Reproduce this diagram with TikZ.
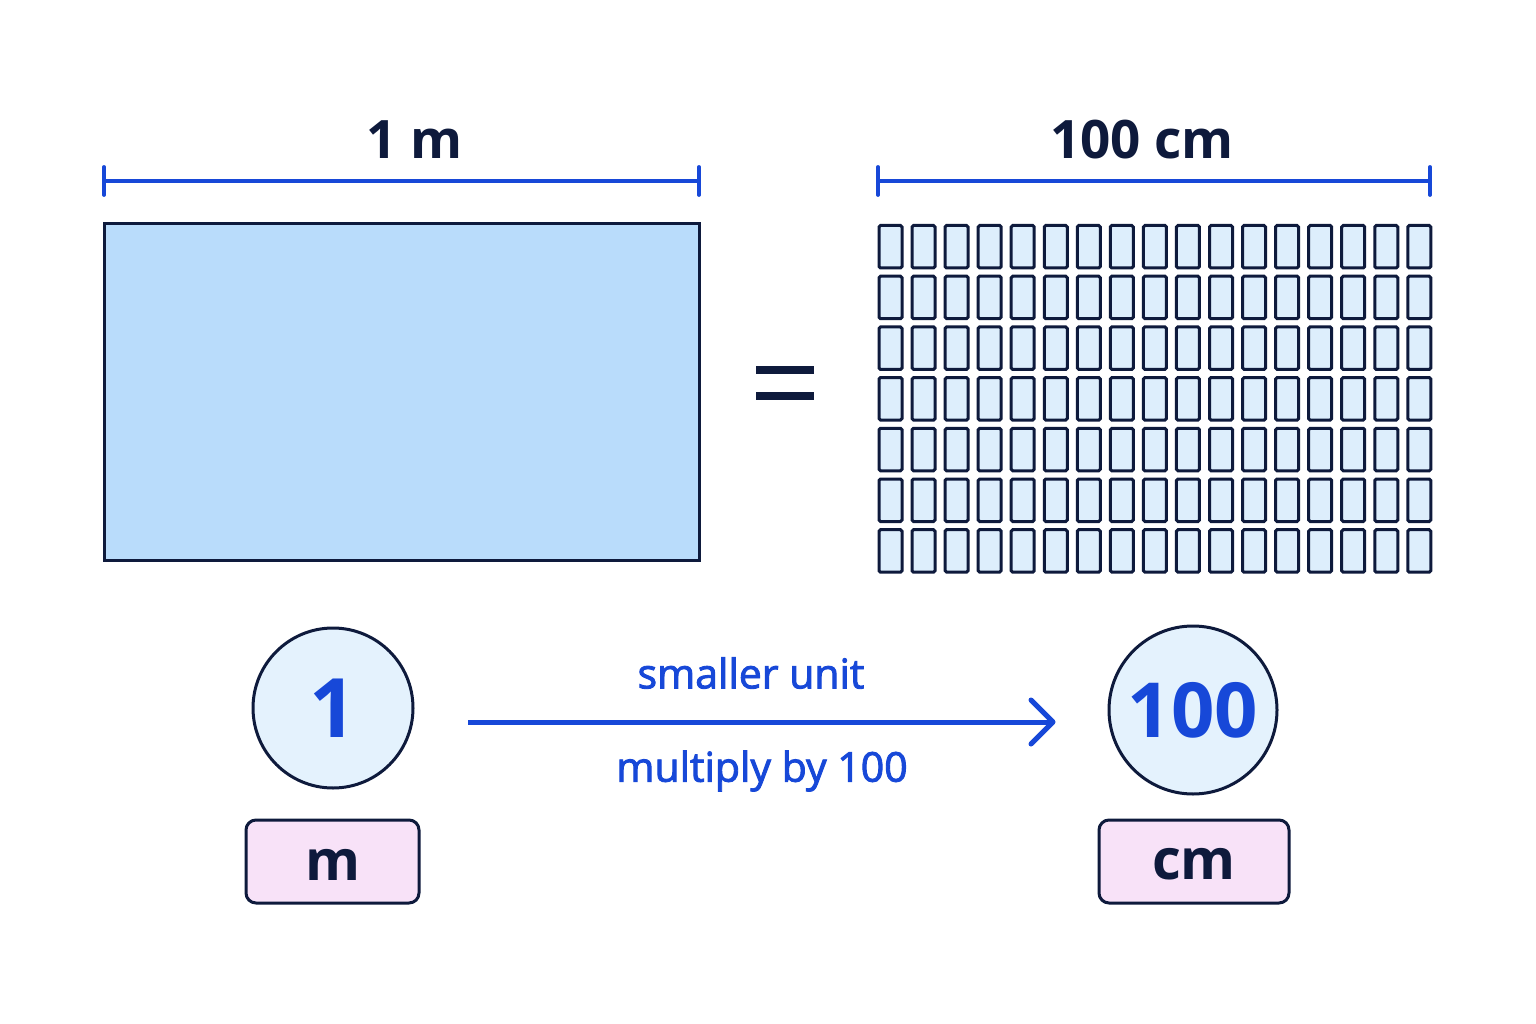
\documentclass[tikz,border=0pt]{standalone}
\usepackage{fontspec}
\setmainfont{Open Sans}
\newfontfamily\medfont[FakeBold=2.2]{Open Sans}
\definecolor{navy}{HTML}{0E1A3C}
\definecolor{ublue}{HTML}{1748D8}
\definecolor{bigfill}{HTML}{B9DCFB}
\definecolor{cellfill}{HTML}{DDEEFC}
\definecolor{circfill}{HTML}{E4F2FD}
\definecolor{pinkfill}{HTML}{F8E2F8}
\tikzset{
  dimline/.style={draw=ublue, line width=3.8pt},
  cell/.style={draw=navy, fill=cellfill, line width=3pt, rounded corners=1.5pt},
  numcirc/.style={circle, draw=navy, fill=circfill, line width=3pt, inner sep=0pt},
  unitbox/.style={draw=navy, fill=pinkfill, line width=3pt, rounded corners=10pt, inner sep=0pt},
  dimlabel/.style={text=navy, font=\fontsize{53}{60}\selectfont\bfseries},
  bluelabel/.style={text=ublue, font=\fontsize{41}{46}\selectfont\medfont}
}
\begin{document}
\begin{tikzpicture}[x=1pt,y=-1pt]
\useasboundingbox[fill=white] (0,0) rectangle (1536,1024);

% left dimension
\coordinate (l1) at (104,181);
\coordinate (l2) at (699,181);
\draw[dimline] (l1) -- (l2);
\draw[dimline, line cap=round] (104,167) -- (104,195);
\draw[dimline, line cap=round] (699,167) -- (699,195);
\node[dimlabel] (lab1m) at (415,140) {1 m};

% big rectangle
\node[draw=navy, fill=bigfill, line width=3pt, minimum width=595pt, minimum height=336pt, inner sep=0pt] (bigrect) at (401.5,392) {};

% equals
\draw[navy, line width=8.5pt] (756,370) -- (814,370);
\draw[navy, line width=8.5pt] (756,396) -- (814,396);

% right dimension
\coordinate (r1) at (878,181);
\coordinate (r2) at (1430,181);
\draw[dimline] (r1) -- (r2);
\draw[dimline, line cap=round] (878,167) -- (878,195);
\draw[dimline, line cap=round] (1430,167) -- (1430,195);
\node[dimlabel] (lab100cm) at (1142,140) {100 cm};

% grid of 17 x 7 cells
\foreach \i in {0,...,16}{
  \foreach \j in {0,...,6}{
    \pgfmathsetmacro{\xa}{879+33.05*\i}
    \pgfmathsetmacro{\ya}{225.5+50.7*\j}
    \draw[cell] (\xa,\ya) rectangle ++(23,42.5);
  }
}

% circles
\node[numcirc, minimum size=160pt] (c1) at (333,708) {};
\node[text=ublue, font=\fontsize{82}{90}\selectfont\bfseries] at (c1) {1};
\node[numcirc, minimum size=168pt] (c100) at (1193,710) {};
\node[text=ublue, font=\fontsize{76}{84}\selectfont\bfseries] at (c100) {100};

% unit boxes
\node[unitbox, minimum width=173pt, minimum height=83pt] (um) at (332.5,861.5) {};
\node[text=navy, font=\fontsize{56}{62}\selectfont\bfseries, yshift=-3pt] at (um) {m};
\node[unitbox, minimum width=190pt, minimum height=83pt] (ucm) at (1194,861.5) {};
\node[text=navy, font=\fontsize{56}{62}\selectfont\bfseries, yshift=-3pt] at (ucm) {cm};

% arrow
\coordinate (a1) at (468,722);
\coordinate (a2) at (1053,722);
\draw[ublue, line width=5pt] (a1) -- (a2);
\draw[ublue, line width=5pt, line cap=round, line join=round] (1031,700) -- (a2) -- (1031,744);
\node[bluelabel] (t1) at (751,673) {smaller unit};
\node[bluelabel] (t2) at (762,771) {multiply by 100};
\end{tikzpicture}
\end{document}
